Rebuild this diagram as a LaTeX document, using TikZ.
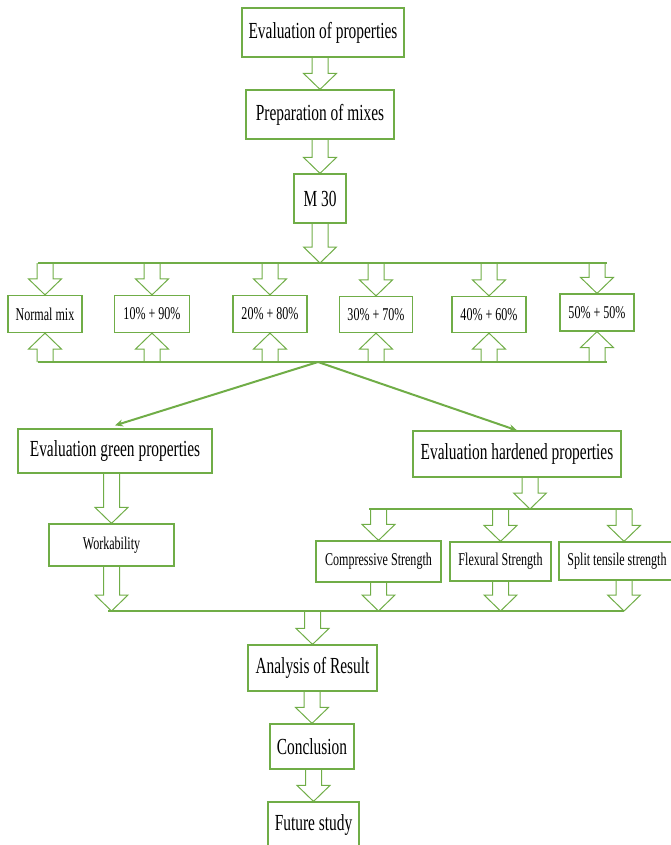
\documentclass[tikz,border=0pt]{standalone}
\usepackage{fontspec}
\setmainfont{Liberation Serif}[FakeStretch=0.67]
\usepackage{tikz}
\usetikzlibrary{calc,arrows.meta}
\definecolor{flowgreen}{HTML}{70AD47}

% block arrows, tip at #2
\newcommand{\blkdown}[2]{\draw[blk] let \p1=(#1), \p2=(#2) in (\x2-8pt,\y1) -- (\x2-8pt,\y2+16pt) -- (\x2-16.5pt,\y2+16pt) -- (\x2,\y2) -- (\x2+16.5pt,\y2+16pt) -- (\x2+8pt,\y2+16pt) -- (\x2+8pt,\y1);}
\newcommand{\blkup}[2]{\draw[blk] let \p1=(#1), \p2=(#2) in (\x2-8pt,\y1) -- (\x2-8pt,\y2-16pt) -- (\x2-16.5pt,\y2-16pt) -- (\x2,\y2) -- (\x2+16.5pt,\y2-16pt) -- (\x2+8pt,\y2-16pt) -- (\x2+8pt,\y1);}

\begin{document}
\begin{tikzpicture}[x=1pt, y=-1pt,
    box/.style={draw=flowgreen, line width=1.2pt, fill=white, inner sep=0pt, align=center},
    bigbox/.style={box, font=\fontsize{23}{26}\selectfont},
    smallbox/.style={box, font=\fontsize{18}{20}\selectfont},
    blk/.style={draw=flowgreen, line width=1pt, line join=miter},
    bar/.style={draw=flowgreen, line width=2.5pt},
    diag/.style={draw=flowgreen, line width=2pt, -{Stealth[length=8pt,width=7pt]}}]
        \useasboundingbox (0,0) rectangle (671,845);

        % Nodes
        \node[bigbox, minimum width=162pt, minimum height=49pt] (evalprop) at (323,32.5) {Evaluation of properties};
        \node[bigbox, minimum width=148pt, minimum height=49pt] (prep) at (320,114.5) {Preparation of mixes};
        \node[bigbox, minimum width=52pt, minimum height=49pt] (m30) at (320,198.5) {M 30};

        \node[smallbox, minimum width=74pt, minimum height=37pt] (nm) at (45,314) {Normal mix};
        \node[smallbox, minimum width=75pt, minimum height=37pt] (mixa) at (152,314) {10\% + 90\%};
        \node[smallbox, minimum width=74pt, minimum height=37pt] (mixb) at (270,314) {20\% + 80\%};
        \node[smallbox, minimum width=73pt, minimum height=36pt] (mixc) at (376,314.5) {30\% + 70\%};
        \node[smallbox, minimum width=74pt, minimum height=36pt] (mixd) at (489,314.5) {40\% + 60\%};
        \node[smallbox, minimum width=74pt, minimum height=37pt] (mixe) at (597,312.5) {50\% + 50\%};

        \node[bigbox, minimum width=194pt, minimum height=44pt] (green) at (115,451) {Evaluation green properties};
        \node[bigbox, minimum width=208pt, minimum height=46pt] (hard) at (517,454) {Evaluation hardened properties};

        \node[smallbox, minimum width=125pt, minimum height=42pt] (work) at (111.5,545) {Workability};
        \node[smallbox, minimum width=125pt, minimum height=41pt] (comp) at (378.5,561.5) {Compressive Strength};
        \node[smallbox, minimum width=101pt, minimum height=39pt] (flex) at (500.5,561.5) {Flexural Strength};
        \node[smallbox, minimum width=116pt, minimum height=38pt] (split) at (617,561) {Split tensile strength};

        \node[bigbox, minimum width=129pt, minimum height=46pt] (ana) at (312.5,668) {Analysis of Result};
        \node[bigbox, minimum width=84pt, minimum height=45pt] (concl) at (312,746.5) {Conclusion};
        \node[bigbox, minimum width=91pt, minimum height=46pt] (future) at (313.5,825) {Future study};

        % Bars
        \coordinate (tl) at (38,263);
        \coordinate (tr) at (607,263);
        \coordinate (bl) at (38,362);
        \coordinate (br) at (607,362);
        \coordinate (bc) at (318,362);
        \coordinate (hl) at (369,509);
        \coordinate (hr) at (632,509);
        \coordinate (hd) at (530,509);
        \coordinate (sp) at (624,509);
        \coordinate (fl) at (108,611);
        \coordinate (fr) at (624,611);
        \draw[bar] (tl) -- (tr);
        \draw[bar] (bl) -- (br);
        \draw[bar] (hl) -- (hr);
        \draw[bar] (fl) -- (fr);

        % Arrows
        \blkdown{evalprop.south}{prep.north}
        \blkdown{prep.south}{m30.north}
        \blkdown{m30.south}{m30.south |- tl}
        \foreach \m in {nm, mixa, mixb, mixc, mixd, mixe} {
            \blkdown{\m.north |- tl}{\m.north}
            \blkup{\m.south |- bl}{\m.south}
        }
        \draw[diag] (bc) -- ([yshift=3pt]green.north);
        \draw[diag] (bc) -- (hard.north);
        \blkdown{green.south}{work.north}
        \blkdown{hard.south -| hd}{hd}
        \blkdown{comp.north |- hl}{comp.north}
        \blkdown{flex.north |- hl}{flex.north}
        \blkdown{sp}{split.north -| sp}
        \blkdown{work.south}{work.south |- fl}
        \blkdown{comp.south}{comp.south |- fl}
        \blkdown{flex.south}{flex.south |- fl}
        \blkdown{split.south -| sp}{fr}
        \blkdown{ana.north |- fl}{ana.north}
        \blkdown{ana.south}{concl.north}
        \blkdown{concl.south}{future.north}
\end{tikzpicture}
\end{document}
